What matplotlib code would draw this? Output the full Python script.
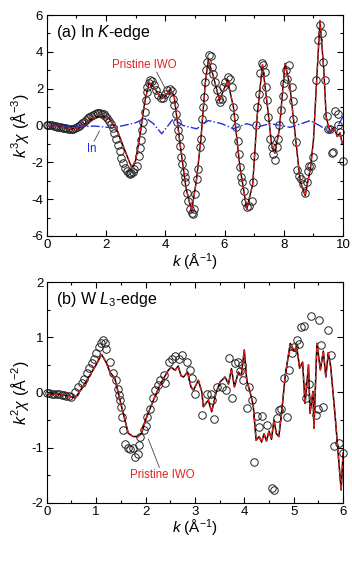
import numpy as np
import matplotlib
matplotlib.use("Agg")
from matplotlib import pyplot as plt
from matplotlib.ticker import MultipleLocator

plt.rcParams['font.family'] = ['Liberation Sans', 'DejaVu Sans']
plt.rcParams['mathtext.fontset'] = 'custom'
plt.rcParams['mathtext.rm'] = 'Liberation Sans'
plt.rcParams['mathtext.it'] = 'Liberation Sans:italic'
plt.rcParams['axes.unicode_minus'] = False

# ---- (a) In K-edge ----
ka_pts = [0.00,0.06,0.12,0.18,0.24,0.30,0.36,0.42,0.48,0.54,0.60,0.66,0.72,0.78,0.84,0.90,0.96,1.02,1.08,1.14,
          1.20,1.26,1.32,1.38,1.44,1.50,1.56,1.62,1.68,1.74,1.80,1.86,1.92,1.98,2.04,2.10,2.16,2.22,2.28,2.34,
          2.40,2.46,2.52,2.58,2.64,2.70,2.76,2.81,2.86,2.91,2.96,3.04,3.10,3.14,3.17,3.20,3.25,3.30,3.34,3.37,
          3.40,3.44,3.48,3.54,3.62,3.69,3.77,3.84,3.91,3.99,4.07,4.16,4.24,4.27,4.31,4.35,4.39,4.42,4.46,4.50,
          4.54,4.56,4.62,4.65,4.67,4.72,4.78,4.84,4.89,4.95,4.98,5.00,5.06,5.12,5.17,5.21,5.24,5.26,5.30,5.34,
          5.38,5.42,5.47,5.53,5.57,5.62,5.68,5.74,5.80,5.85,5.91,5.96,6.02,6.10,6.17,6.24,6.30,6.33,6.39,6.45,
          6.50,6.52,6.56,6.58,6.64,6.69,6.75,6.84,6.92,6.97,7.00,7.06,7.11,7.17,7.20,7.26,7.31,7.37,7.40,7.43,
          7.48,7.54,7.60,7.65,7.70,7.76,7.81,7.85,7.90,7.97,8.01,8.07,8.12,8.19,8.27,8.30,8.32,8.40,8.46,8.52,
          8.58,8.66,8.72,8.77,8.80,8.86,8.92,8.98,9.09,9.14,9.22,9.28,9.33,9.39,9.45,9.50,9.56,9.62,9.66,9.73,
          9.82,9.84,9.90,10.0]
chia_pts = [0.02,0.02,0.01,0.0,-0.02,-0.04,-0.06,-0.08,-0.1,-0.12,-0.14,-0.16,-0.17,-0.18,-0.18,-0.17,-0.14,-0.1,-0.04,0.04,
            0.12,0.21,0.3,0.38,0.46,0.53,0.59,0.63,0.66,0.67,0.67,0.65,0.6,0.52,0.4,0.25,0.06,-0.16,-0.42,-0.72,
            -1.05,-1.4,-1.75,-2.05,-2.3,-2.48,-2.58,-2.62,-2.6,-2.5,-2.35,-2.18,-1.64,-1.2,-0.78,-0.27,0.19,0.73,1.36,1.82,
            2.1,2.3,2.45,2.42,2.18,1.91,1.64,1.49,1.51,1.69,1.91,2.0,1.87,1.45,1.09,0.64,0.18,-0.27,-0.64,-1.09,
            -1.73,-2.09,-2.54,-2.82,-3.09,-3.64,-4.09,-4.54,-4.73,-4.82,-4.55,-3.73,-2.91,-2.36,-1.18,-0.73,0.36,1.0,1.55,2.36,
            3.0,3.45,3.82,3.76,3.18,2.82,2.36,1.91,1.45,1.27,1.45,2.09,2.36,2.64,2.55,2.09,1.0,0.45,-0.09,-0.82,
            -1.55,-2.27,-2.82,-3.09,-3.55,-4.18,-4.45,-4.36,-4.09,-3.09,-1.64,0.0,1.0,1.73,2.86,3.4,3.27,2.91,2.09,1.4,
            0.45,-0.73,-1.18,-1.55,-1.87,-1.18,-0.73,0.0,0.82,1.58,2.3,3.0,2.55,3.27,2.09,1.33,0.36,-0.91,-2.42,-2.73,
            -2.91,-3.18,-3.69,-3.09,-2.45,-2.18,-2.18,-1.73,2.45,4.64,5.45,5.0,3.45,2.45,0.49,-0.18,-0.18,-1.51,-1.45,0.76,
            0.6,0.0,-0.36,-1.91]

ka_fit = [0.0,0.4,0.85,1.1,1.5,1.85,2.1,2.4,2.6,2.87,3.0,3.15,3.3,3.45,3.6,3.88,4.0,4.18,4.3,4.5,
          4.7,4.89,5.05,5.2,5.35,5.45,5.6,5.83,6.1,6.3,6.52,6.75,6.95,7.1,7.28,7.45,7.6,7.7,7.85,8.04,
          8.2,8.35,8.55,8.72,8.9,9.0,9.1,9.22,9.35,9.43,9.55,9.7,9.8,9.9,9.97]
chia_fit = [0.0,-0.05,-0.18,-0.12,0.35,0.55,0.4,-0.35,-1.2,-2.3,-1.9,-0.5,1.2,2.35,2.1,1.45,1.6,1.95,1.6,-1.0,
            -3.4,-4.64,-3.0,-0.8,2.3,3.55,2.8,1.36,2.45,1.0,-2.27,-4.53,-3.2,0.5,3.3,1.0,-1.2,-1.5,-0.2,3.37,
            2.2,0.0,-3.0,-3.82,-2.3,-0.8,2.2,5.7,3.0,0.45,-0.3,-0.1,-0.6,-0.4,-1.0]

ka_in = [0.0,0.85,1.6,2.2,2.6,3.0,3.35,3.6,3.88,4.27,4.6,5.06,5.45,5.9,6.3,6.75,7.1,7.54,7.9,8.21,
         8.6,8.89,9.2,9.56,9.8,10.0]
chia_in = [0.0,-0.1,-0.03,-0.12,0.0,0.15,0.4,0.1,-0.45,0.36,0.0,-0.18,0.27,0.1,-0.18,0.1,-0.08,0.1,0.0,-0.1,
           0.1,0.27,0.0,-0.36,-0.1,0.5]

# ---- (b) W L3-edge ----
kb_pts = [0.0,0.05,0.1,0.15,0.2,0.25,0.3,0.35,0.4,0.45,0.5,0.57,0.64,0.71,0.76,0.81,0.86,0.91,0.95,1.0,
          1.05,1.1,1.14,1.18,1.21,1.28,1.35,1.4,1.44,1.46,1.48,1.5,1.52,1.55,1.59,1.64,1.69,1.74,1.78,1.84,
          1.86,1.89,1.96,2.0,2.04,2.09,2.16,2.19,2.26,2.3,2.38,2.4,2.48,2.53,2.6,2.68,2.73,2.83,2.9,2.95,
          3.0,3.14,3.24,3.32,3.34,3.39,3.45,3.54,3.63,3.7,3.75,3.82,3.88,3.91,3.95,3.98,4.05,4.1,4.15,4.2,
          4.25,4.3,4.35,4.46,4.56,4.6,4.67,4.7,4.74,4.8,4.86,4.91,4.96,5.0,5.06,5.1,5.15,5.2,5.24,5.3,
          5.35,5.45,5.5,5.52,5.55,5.6,5.7,5.75,5.81,5.91,6.0]
chib_pts = [-0.01,-0.01,-0.02,-0.02,-0.03,-0.03,-0.04,-0.05,-0.06,-0.07,-0.08,0.01,0.09,0.17,0.25,0.36,0.44,0.53,0.6,0.72,
            0.82,0.9,0.95,0.9,0.78,0.55,0.36,0.22,0.07,-0.05,-0.14,-0.26,-0.44,-0.69,-0.93,-1.0,-1.03,-1.0,-1.17,-1.12,
            -0.95,-0.8,-0.69,-0.6,-0.44,-0.3,-0.11,0.04,0.13,0.22,0.31,0.17,0.56,0.6,0.66,0.6,0.68,0.56,0.4,0.27,
            -0.02,-0.41,-0.03,-0.03,-0.14,-0.48,0.1,0.09,0.05,0.63,-0.11,0.53,0.55,0.38,0.49,0.22,-0.28,0.1,-0.13,-1.27,
            -0.43,-0.62,-0.43,-0.59,-1.74,-1.77,-0.47,-0.32,-0.3,0.27,-0.44,0.4,0.72,0.82,0.96,0.87,1.19,1.2,-0.11,0.16,
            1.39,-0.41,-0.3,1.31,0.86,-0.26,1.14,0.68,-0.97,-0.92,-1.09]

kb_fit = [0.0,0.3,0.5,0.58,0.8,1.0,1.11,1.2,1.28,1.38,1.5,1.65,1.75,1.85,1.92,2.0,2.16,2.3,2.46,2.52,
          2.6,2.66,2.72,2.77,2.85,2.92,2.97,3.07,3.14,3.17,3.27,3.34,3.43,3.51,3.61,3.68,3.74,3.8,3.88,3.94,
          4.0,4.05,4.13,4.18,4.24,4.3,4.35,4.4,4.45,4.5,4.55,4.6,4.65,4.7,4.76,4.83,4.93,5.01,5.06,5.12,
          5.18,5.23,5.3,5.33,5.39,5.41,5.47,5.54,5.6,5.65,5.7,5.75,5.84,5.96,6.0]
chib_fit = [-0.02,-0.04,-0.08,-0.1,0.2,0.5,0.69,0.55,0.37,0.25,-0.2,-0.74,-0.8,-0.8,-0.74,-0.5,-0.14,0.15,0.4,0.46,
            0.4,0.48,0.3,0.28,0.37,0.1,0.04,0.22,0.01,-0.26,-0.14,-0.35,0.0,0.19,0.28,0.15,0.43,0.1,0.37,0.3,
            0.77,0.22,-0.04,-0.23,-0.87,-0.8,-0.9,-0.75,-0.88,-0.7,-0.85,-0.5,-0.75,-0.8,-0.32,0.31,0.89,0.75,0.84,0.44,
            0.55,-0.2,0.5,-0.38,0.02,-0.65,0.89,0.41,0.75,0.28,0.72,0.46,-0.44,-1.77,-1.1]

fig = plt.figure(figsize=(3.52, 5.64), dpi=100)
ax1 = fig.add_axes([0.1327, 0.5816, 0.842, 0.3918])
ax2 = fig.add_axes([0.1327, 0.1087, 0.842, 0.391])

def style(ax):
    ax.tick_params(which='both', direction='in', top=True, right=True, labelsize=9.5, width=0.8, pad=2.5)
    ax.tick_params(which='major', length=4)
    ax.tick_params(which='minor', length=2.5)
    for s in ax.spines.values():
        s.set_linewidth(0.8)

# panel a
ax1.plot(ka_pts, chia_pts, 'o', ms=5.4, mfc='none', mec='#222222', mew=0.7, clip_on=False, zorder=2)
ax1.plot(ka_fit, chia_fit, '-', color='black', lw=1.0, zorder=3)
ax1.plot(ka_fit, chia_fit, '--', color='#e8201c', lw=1.0, dashes=(3, 2), zorder=4)
ax1.plot(ka_in, chia_in, '-.', color='#2030d8', lw=1.0, zorder=3)
ax1.set_xlim(0, 10)
ax1.set_ylim(-6, 6)
ax1.xaxis.set_major_locator(MultipleLocator(2))
ax1.xaxis.set_minor_locator(MultipleLocator(1))
ax1.yaxis.set_major_locator(MultipleLocator(2))
ax1.yaxis.set_minor_locator(MultipleLocator(1))
style(ax1)
ax1.set_xlabel(r'$k$ (Å$^{-1}$)', fontsize=11, labelpad=0)
ax1.set_ylabel(r'$k^3\chi$ (Å$^{-3}$)', fontsize=11.5, labelpad=0)
ax1.text(0.03, 0.92, r'(a) In $K$-edge', transform=ax1.transAxes, fontsize=11.5, va='center')
ax1.text(3.3, 3.3, 'Pristine IWO', color='#e8201c', fontsize=8.3, ha='center', va='center')
ax1.plot([3.71, 4.0], [2.9, 2.0], color='#444444', lw=0.6)
ax1.text(1.52, -1.3, 'In', color='#2030d8', fontsize=8.3, ha='center', va='center')
ax1.plot([1.6, 1.78], [-0.85, -0.3], color='#444444', lw=0.6)

# panel b
ax2.plot(kb_pts, chib_pts, 'o', ms=5.4, mfc='none', mec='#222222', mew=0.7, clip_on=False, zorder=2)
ax2.plot(kb_fit, chib_fit, '-', color='black', lw=1.1, zorder=3)
ax2.plot(kb_fit, chib_fit, '--', color='#e8201c', lw=1.0, dashes=(3, 2), zorder=4)
ax2.set_xlim(0, 6)
ax2.set_ylim(-2, 2)
ax2.xaxis.set_major_locator(MultipleLocator(1))
ax2.xaxis.set_minor_locator(MultipleLocator(0.5))
ax2.yaxis.set_major_locator(MultipleLocator(1))
ax2.yaxis.set_minor_locator(MultipleLocator(0.5))
style(ax2)
ax2.set_xlabel(r'$k$ (Å$^{-1}$)', fontsize=11, labelpad=0)
ax2.set_ylabel(r'$k^2\chi$ (Å$^{-2}$)', fontsize=11.5, labelpad=0)
ax2.text(0.03, 0.92, r'(b) W $L_3$-edge', transform=ax2.transAxes, fontsize=11.5, va='center')
ax2.text(2.34, -1.5, 'Pristine IWO', color='#e8201c', fontsize=8.3, ha='center', va='center')
ax2.plot([2.28, 2.06], [-1.36, -0.85], color='#444444', lw=0.6)

fig.savefig('out.png', dpi=100)
